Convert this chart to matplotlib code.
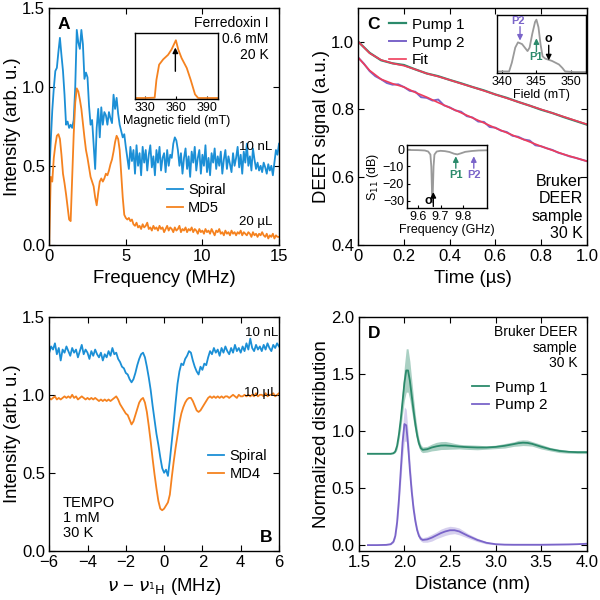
import matplotlib.pyplot as plt
import matplotlib.ticker as mticker
import numpy as np

plt.rcParams['font.family'] = ['Liberation Sans', 'DejaVu Sans']
plt.rcParams['mathtext.fontset'] = 'dejavusans'
plt.rcParams['xtick.direction'] = 'in'
plt.rcParams['ytick.direction'] = 'in'
plt.rcParams['xtick.major.size'] = 4
plt.rcParams['ytick.major.size'] = 4
plt.rcParams['axes.linewidth'] = 1.0

blue = '#1b8fd6'
orange = '#f5821f'
green = '#2b8a6b'
purple = '#7a64c9'
red = '#ef3d5b'
gray = '#9a9a9a'

# ---------- panel A: ferredoxin spectra (0..15 MHz, 0.1 MHz step) ----------
a_freq = np.linspace(0, 15, 151)
a_spiral = [
    0.43, 0.65, 0.85, 0.99, 1.10, 1.12, 1.22, 1.31, 1.20, 1.10,
    0.95, 0.76, 0.78, 0.74, 0.76, 0.74, 0.79, 1.00, 1.36, 1.28,
    1.24, 1.36, 1.27, 1.05, 1.09, 1.06, 0.88, 0.76, 0.79, 0.64,
    0.48, 0.74, 0.86, 0.68, 0.87, 0.76, 0.84, 0.82, 0.76, 0.84,
    0.80, 0.77, 0.95, 0.86, 0.93, 0.83, 0.76, 0.72, 0.68, 0.70,
    0.62, 0.55, 0.48, 0.62, 0.53, 0.60, 0.45, 0.63, 0.50, 0.58,
    0.44, 0.62, 0.52, 0.60, 0.47, 0.57, 0.63, 0.49, 0.56, 0.44,
    0.60, 0.52, 0.62, 0.47, 0.55, 0.58, 0.46, 0.60, 0.50, 0.57,
    0.55, 0.64, 0.68, 0.66, 0.60, 0.50, 0.58, 0.45, 0.55, 0.61,
    0.48, 0.56, 0.43, 0.59, 0.52, 0.62, 0.47, 0.55, 0.60, 0.45,
    0.57, 0.50, 0.63, 0.46, 0.55, 0.44, 0.58, 0.52, 0.61, 0.48,
    0.56, 0.50, 0.59, 0.45, 0.54, 0.60, 0.48, 0.56, 0.51, 0.46,
    0.58, 0.50, 0.55, 0.62, 0.49, 0.57, 0.45, 0.59, 0.52, 0.64,
    0.50, 0.56, 0.47, 0.61, 0.54, 0.48, 0.52, 0.47, 0.50, 0.46,
    0.52, 0.49, 0.45, 0.51, 0.47, 0.50, 0.44, 0.52, 0.60, 0.57,
    0.64]
a_md5 = [
    0.00, 0.43, 0.40, 0.55, 0.63, 0.69, 0.70, 0.67, 0.57, 0.45,
    0.39, 0.32, 0.24, 0.16, 0.15, 0.42, 0.70, 0.90, 0.99, 0.97,
    0.92, 0.86, 0.77, 0.68, 0.60, 0.55, 0.49, 0.43, 0.40, 0.37,
    0.30, 0.25, 0.33, 0.40, 0.42, 0.40, 0.42, 0.45, 0.44, 0.47,
    0.51, 0.54, 0.59, 0.65, 0.69, 0.67, 0.60, 0.45, 0.30, 0.19,
    0.17, 0.16, 0.17, 0.15, 0.16, 0.13, 0.12, 0.14, 0.11, 0.12,
    0.10, 0.13, 0.11, 0.12, 0.14, 0.10, 0.11, 0.09, 0.12, 0.10,
    0.11, 0.09, 0.12, 0.10, 0.11, 0.08, 0.10, 0.12, 0.09, 0.11,
    0.10, 0.08, 0.11, 0.09, 0.10, 0.12, 0.08, 0.10, 0.09, 0.11,
    0.08, 0.10, 0.09, 0.11, 0.08, 0.10, 0.09, 0.07, 0.10, 0.08,
    0.09, 0.07, 0.10, 0.08, 0.09, 0.07, 0.10, 0.08, 0.06, 0.09,
    0.08, 0.10, 0.07, 0.08, 0.06, 0.09, 0.07, 0.08, 0.06, 0.09,
    0.07, 0.08, 0.06, 0.08, 0.07, 0.09, 0.06, 0.08, 0.07, 0.06,
    0.08, 0.07, 0.05, 0.08, 0.06, 0.07, 0.05, 0.07, 0.06, 0.08,
    0.06, 0.05, 0.07, 0.04, 0.06, 0.05, 0.07, 0.04, 0.06, 0.05,
    0.05]
a_ins_field = [320, 330, 339, 340.7, 343.3, 347.2, 352, 355.3, 359.5,
               361.8, 365, 370, 373.8, 378, 381, 390, 400]
a_ins_int = [0.015, 0.015, 0.02, 0.29, 0.52, 0.60, 0.67, 0.75, 0.89,
             0.75, 0.62, 0.47, 0.29, 0.07, 0.015, 0.015, 0.015]

# ---------- panel B: TEMPO spectra (-6..6 MHz, 0.1 MHz step) ----------
b_freq = np.linspace(-6, 6, 121)
b_spiral = [
    1.27, 1.31, 1.29, 1.33, 1.26, 1.30, 1.22, 1.29, 1.27, 1.31,
    1.28, 1.25, 1.30, 1.27, 1.29, 1.24, 1.28, 1.32, 1.26, 1.29,
    1.27, 1.23, 1.28, 1.25, 1.29, 1.26, 1.24, 1.27, 1.22, 1.26,
    1.24, 1.28, 1.25, 1.30, 1.26, 1.27, 1.23, 1.21, 1.18, 1.17,
    1.14, 1.13, 1.10, 1.08, 1.10, 1.14, 1.19, 1.23, 1.26, 1.27,
    1.24, 1.18, 1.11, 1.03, 0.93, 0.84, 0.75, 0.68, 0.60, 0.53,
    0.50, 0.52, 0.48, 0.58, 0.70, 0.82, 0.95, 1.07, 1.15, 1.20,
    1.19, 1.23, 1.25, 1.28, 1.27, 1.22, 1.18, 1.15, 1.13, 1.18,
    1.16, 1.20, 1.19, 1.24, 1.28, 1.26, 1.30, 1.27, 1.29, 1.25,
    1.30, 1.27, 1.31, 1.28, 1.26, 1.30, 1.27, 1.32, 1.28, 1.30,
    1.27, 1.31, 1.28, 1.33, 1.29, 1.36, 1.30, 1.28, 1.32, 1.29,
    1.31, 1.28, 1.32, 1.29, 1.33, 1.30, 1.28, 1.32, 1.30, 1.33,
    1.31]
b_md4 = [
    0.98, 0.97, 0.98, 0.99, 0.97, 0.98, 0.97, 0.98, 0.99, 0.98,
    0.99, 0.98, 1.00, 0.98, 0.99, 0.97, 0.98, 0.99, 0.98, 0.97,
    0.98, 0.97, 0.98, 0.97, 0.98, 0.97, 0.96, 0.97, 0.96, 0.97,
    0.96, 0.97, 0.96, 0.97, 0.98, 0.99, 0.97, 0.94, 0.92, 0.90,
    0.88, 0.87, 0.84, 0.81, 0.83, 0.87, 0.91, 0.95, 0.97, 0.98,
    0.95, 0.89, 0.80, 0.70, 0.59, 0.49, 0.40, 0.32, 0.27, 0.26,
    0.27, 0.29, 0.31, 0.36, 0.47, 0.57, 0.66, 0.74, 0.82, 0.88,
    0.92, 0.95, 0.97, 0.98, 0.98, 0.96, 0.93, 0.90, 0.89, 0.90,
    0.92, 0.94, 0.96, 0.98, 0.99, 0.98, 0.99, 0.98, 0.99, 0.98,
    0.99, 0.98, 0.99, 0.99, 0.98, 0.99, 1.00, 0.99, 0.98, 1.00,
    0.99, 0.99, 1.00, 0.99, 1.00, 0.99, 1.00, 0.99, 1.01, 0.99,
    1.00, 1.00, 0.99, 1.01, 0.99, 1.00, 1.00, 1.01, 0.99, 1.00,
    1.01]

# ---------- panel C: DEER traces ----------
c_t1 = np.linspace(0, 1, 21)
c_pump1 = [1.000, 0.967, 0.945, 0.936, 0.931, 0.918, 0.906, 0.898, 0.887, 0.877,
           0.866, 0.856, 0.844, 0.834, 0.822, 0.811, 0.799, 0.789, 0.777, 0.766, 0.755]
c_fit1 = [1.000, 0.966, 0.946, 0.936, 0.929, 0.918, 0.906, 0.897, 0.887, 0.876,
          0.866, 0.855, 0.844, 0.833, 0.822, 0.811, 0.800, 0.789, 0.778, 0.767, 0.756]
c_t2 = np.linspace(0, 1, 41)
c_pump2 = [0.953, 0.935, 0.913, 0.898, 0.889, 0.878, 0.873, 0.874, 0.866, 0.855,
           0.852, 0.836, 0.834, 0.826, 0.829, 0.812, 0.806, 0.797, 0.793, 0.780,
           0.776, 0.764, 0.763, 0.748, 0.746, 0.737, 0.733, 0.722, 0.719, 0.711,
           0.708, 0.694, 0.691, 0.685, 0.680, 0.672, 0.667, 0.661, 0.657, 0.652, 0.647]
c_fit2 = [0.953, 0.915, 0.889, 0.876, 0.866, 0.850, 0.836, 0.820, 0.805, 0.790,
          0.775, 0.760, 0.745, 0.731, 0.717, 0.704, 0.691, 0.679, 0.667, 0.657, 0.647]
c_ins_field = [339.2, 341.0, 341.4, 341.9, 342.3, 342.9, 343.7, 344.0, 344.4, 344.8,
               345.0, 345.3, 345.6, 345.9, 346.3, 347.3, 348.3, 348.8, 349.2, 350.5, 352.2]
c_ins_sig = [0.03, 0.03, 0.18, 0.44, 0.53, 0.50, 0.38, 0.44, 0.68, 0.88,
             0.92, 0.79, 0.50, 0.29, 0.25, 0.21, 0.15, 0.09, 0.03, 0.02, 0.02]
c_s11_freq = [9.55, 9.60, 9.63, 9.645, 9.655, 9.659, 9.662, 9.664, 9.666, 9.669,
              9.673, 9.683, 9.70, 9.72, 9.74, 9.76, 9.775, 9.79, 9.81, 9.84, 9.87, 9.905]
c_s11_db = [-0.3, -0.4, -0.6, -1.2, -3.0, -10.0, -24.0, -31.0, -24.0, -10.0,
            -3.0, -1.2, -0.8, -1.0, -1.5, -2.5, -2.9, -2.3, -1.4, -0.9, -0.6, -0.5]

# ---------- panel D: distance distributions ----------
d_dist = [1.6, 1.7, 1.8, 1.85, 1.88, 1.9, 1.92, 1.94, 1.96, 1.98, 2.0, 2.02, 2.04,
          2.06, 2.08, 2.1, 2.12, 2.14, 2.16, 2.18, 2.2, 2.25, 2.3, 2.35, 2.4, 2.45,
          2.5, 2.55, 2.6, 2.65, 2.7, 2.8, 2.9, 3.0, 3.1, 3.2, 3.25, 3.3, 3.35, 3.4,
          3.5, 3.6, 3.7, 3.8, 3.9, 4.0]
d_pump1 = [0.80, 0.80, 0.80, 0.80, 0.805, 0.82, 0.87, 0.97, 1.10, 1.26, 1.42, 1.53, 1.53,
           1.44, 1.31, 1.18, 1.06, 0.96, 0.89, 0.85, 0.835, 0.84, 0.855, 0.865, 0.872, 0.873,
           0.870, 0.866, 0.863, 0.860, 0.858, 0.855, 0.855, 0.860, 0.870, 0.885, 0.893, 0.897,
           0.895, 0.887, 0.862, 0.840, 0.825, 0.817, 0.814, 0.814]
d_pump1_err = [0.003, 0.003, 0.003, 0.003, 0.005, 0.01, 0.03, 0.05, 0.08, 0.11, 0.15, 0.19,
               0.19, 0.17, 0.14, 0.11, 0.08, 0.06, 0.04, 0.03, 0.025, 0.025, 0.03, 0.035,
               0.035, 0.035, 0.03, 0.025, 0.02, 0.02, 0.02, 0.02, 0.015, 0.015, 0.02, 0.02,
               0.025, 0.025, 0.025, 0.02, 0.02, 0.015, 0.015, 0.012, 0.012, 0.012]
d_pump2 = [0.0, 0.0, 0.002, 0.008, 0.03, 0.08, 0.20, 0.40, 0.65, 0.90, 1.06, 1.05, 0.88,
           0.66, 0.47, 0.32, 0.21, 0.13, 0.08, 0.055, 0.045, 0.05, 0.065, 0.085, 0.105, 0.12,
           0.13, 0.13, 0.12, 0.10, 0.08, 0.045, 0.02, 0.008, 0.004, 0.003, 0.003, 0.003,
           0.003, 0.003, 0.003, 0.004, 0.005, 0.006, 0.008, 0.012]
d_pump2_err = [0.002, 0.002, 0.003, 0.005, 0.01, 0.02, 0.04, 0.07, 0.10, 0.13, 0.15, 0.14,
               0.12, 0.09, 0.07, 0.05, 0.04, 0.03, 0.025, 0.02, 0.02, 0.025, 0.03, 0.03,
               0.035, 0.035, 0.035, 0.03, 0.03, 0.025, 0.02, 0.015, 0.01, 0.005, 0.003,
               0.003, 0.003, 0.003, 0.003, 0.003, 0.003, 0.003, 0.003, 0.003, 0.003, 0.003]

TICK = 12
LAB = 13.3


def style(ax):
    ax.tick_params(which='both', top=True, right=True, labelsize=TICK, pad=3)


def small_text(ax, x, y, s, **kw):
    ax.text(x, y, s, transform=ax.transAxes, fontsize=9.5, **kw)


def arrow(ax, x0, y0, x1, y1, color):
    ax.annotate('', xy=(x1, y1), xytext=(x0, y0),
                arrowprops=dict(arrowstyle='-|>', color=color, lw=1.0, mutation_scale=8,
                                shrinkA=0, shrinkB=0))


fig = plt.figure(figsize=(6, 6), dpi=100)
axA = fig.add_axes([0.082, 0.592, 0.383, 0.395])
axC = fig.add_axes([0.597, 0.592, 0.381, 0.395])
axB = fig.add_axes([0.082, 0.082, 0.383, 0.390])
axD = fig.add_axes([0.598, 0.082, 0.380, 0.390])

# A
axA.plot(a_freq, a_spiral, color=blue, lw=1.3, label='Spiral')
axA.plot(a_freq, a_md5, color=orange, lw=1.3, label='MD5')
axA.set_xlim(0, 15)
axA.set_ylim(0, 1.5)
axA.set_xticks([0, 5, 10, 15])
axA.set_yticks([0, 0.5, 1.0, 1.5])
axA.yaxis.set_major_formatter(mticker.FormatStrFormatter('%.1f'))
axA.set_xlabel('Frequency (MHz)', fontsize=LAB)
axA.set_ylabel('Intensity (arb. u.)', fontsize=LAB, labelpad=1)
style(axA)
axA.text(0.065, 0.93, 'A', transform=axA.transAxes, fontsize=12.5, fontweight='bold',
         ha='center', va='center')
axA.text(0.955, 0.965, 'Ferredoxin I\n0.6 mM\n20 K', transform=axA.transAxes,
         fontsize=10, ha='right', va='top', linespacing=1.2)
small_text(axA, 0.97, 0.414, '10 nL', ha='right', va='center')
small_text(axA, 0.97, 0.097, '20 µL', ha='right', va='center')
axA.legend(loc='upper left', bbox_to_anchor=(0.48, 0.29), frameon=False, fontsize=10.5,
           handlelength=1.1, handletextpad=0.35, labelspacing=0.25, borderpad=0)

insA = fig.add_axes([0.225, 0.835, 0.138, 0.110])
insA.plot(a_ins_field, a_ins_int, color=orange, lw=1.3)
insA.set_xlim(320, 400)
insA.set_ylim(0, 1.0)
insA.set_xticks([330, 360, 390])
insA.set_yticks([])
insA.tick_params(labelsize=9, length=2.5, pad=2)
insA.set_xlabel('Magnetic field (mT)', fontsize=9, labelpad=1)
arrow(insA, 359, 0.42, 359, 0.78, 'black')

# C
axC.plot(c_t1, c_pump1, color=green, lw=1.6, label='Pump 1')
axC.plot(c_t2, c_pump2, color=purple, lw=1.4, label='Pump 2')
axC.plot(c_t1, c_fit1, color=red, lw=1.2, label='Fit')
axC.plot(c_t1, c_fit2, color=red, lw=1.2)
axC.set_xlim(0, 1.0)
axC.set_ylim(0.4, 1.1)
axC.set_xticks([0, 0.2, 0.4, 0.6, 0.8, 1.0])
axC.set_yticks([0.4, 0.6, 0.8, 1.0])
axC.xaxis.set_major_formatter(mticker.FuncFormatter(lambda v, p: '0' if v == 0 else f'{v:.1f}'))
axC.yaxis.set_major_formatter(mticker.FormatStrFormatter('%.1f'))
axC.set_xlabel('Time (µs)', fontsize=LAB)
axC.set_ylabel('DEER signal (a.u.)', fontsize=LAB, labelpad=1)
style(axC)
axC.text(0.066, 0.93, 'C', transform=axC.transAxes, fontsize=12.5, fontweight='bold',
         ha='center', va='center')
axC.text(0.985, 0.015, 'Bruker\nDEER\nsample\n30 K', transform=axC.transAxes,
         fontsize=11.5, ha='right', va='bottom', linespacing=1.2)
axC.legend(loc='upper left', bbox_to_anchor=(0.1, 0.99), frameon=False, fontsize=11,
           handlelength=1.1, handletextpad=0.4, labelspacing=0.25, borderpad=0)

insC1 = fig.add_axes([0.828, 0.878, 0.148, 0.097])
insC1.plot(c_ins_field, c_ins_sig, color=gray, lw=1.3)
insC1.set_xlim(339.2, 352.2)
insC1.set_ylim(0, 1.0)
insC1.set_xticks([340, 345, 350])
insC1.set_yticks([])
insC1.tick_params(labelsize=9, length=2.5, pad=2)
insC1.set_xlabel('Field (mT)', fontsize=9, labelpad=1)
arrow(insC1, 342.6, 0.80, 342.6, 0.56, purple)
insC1.text(342.3, 0.9, 'P2', color=purple, fontsize=8, fontweight='bold', ha='center', va='center')
arrow(insC1, 345.0, 0.37, 345.0, 0.60, green)
insC1.text(344.9, 0.27, 'P1', color=green, fontsize=8, fontweight='bold', ha='center', va='center')
arrow(insC1, 346.8, 0.48, 346.8, 0.22, 'black')
insC1.text(346.8, 0.58, 'o', color='black', fontsize=9, fontweight='bold', ha='center', va='center')

insC2 = fig.add_axes([0.678, 0.653, 0.133, 0.105])
insC2.plot(c_s11_freq, c_s11_db, color=gray, lw=1.3)
insC2.set_xlim(9.55, 9.905)
insC2.set_ylim(-34.5, 2.5)
insC2.set_xticks([9.6, 9.7, 9.8])
insC2.set_yticks([0, -10, -20, -30])
insC2.tick_params(labelsize=9, length=2.5, pad=2)
insC2.set_xlabel('Frequency (GHz)', fontsize=9, labelpad=1)
insC2.set_ylabel('S$_{11}$ (dB)', fontsize=9, labelpad=1)
arrow(insC2, 9.668, -33.5, 9.668, -25, 'black')
insC2.text(9.645, -30.5, 'o', color='black', fontsize=9, fontweight='bold', ha='center', va='center')
arrow(insC2, 9.768, -11, 9.768, -4, green)
insC2.text(9.768, -15, 'P1', color=green, fontsize=8, fontweight='bold', ha='center', va='center')
arrow(insC2, 9.848, -11, 9.848, -4, purple)
insC2.text(9.848, -15, 'P2', color=purple, fontsize=8, fontweight='bold', ha='center', va='center')

# B
axB.plot(b_freq, b_spiral, color=blue, lw=1.3, label='Spiral')
axB.plot(b_freq, b_md4, color=orange, lw=1.3, label='MD4')
axB.set_xlim(-6, 6)
axB.set_ylim(0, 1.5)
axB.set_xticks([-6, -4, -2, 0, 2, 4, 6])
axB.set_yticks([0, 0.5, 1.0, 1.5])
axB.yaxis.set_major_formatter(mticker.FormatStrFormatter('%.1f'))
axB.set_xlabel(r'$\nu$ − $\nu_{^{1}\mathrm{H}}$ (MHz)', fontsize=LAB)
axB.set_ylabel('Intensity (arb. u.)', fontsize=LAB, labelpad=1)
style(axB)
axB.text(0.943, 0.056, 'B', transform=axB.transAxes, fontsize=12.5, fontweight='bold',
         ha='center', va='center')
axB.text(0.06, 0.045, 'TEMPO\n1 mM\n30 K', transform=axB.transAxes,
         fontsize=10.5, ha='left', va='bottom', linespacing=1.1)
small_text(axB, 0.995, 0.93, '10 nL', ha='right', va='center')
small_text(axB, 0.995, 0.675, '10 µL', ha='right', va='center')
axB.legend(loc='upper left', bbox_to_anchor=(0.66, 0.465), frameon=False, fontsize=10.5,
           handlelength=1.1, handletextpad=0.35, labelspacing=0.25, borderpad=0)

# D
axD.fill_between(d_dist, np.array(d_pump1) - np.array(d_pump1_err),
                 np.array(d_pump1) + np.array(d_pump1_err), color=green, alpha=0.4, lw=0)
axD.fill_between(d_dist, np.array(d_pump2) - np.array(d_pump2_err),
                 np.array(d_pump2) + np.array(d_pump2_err), color=purple, alpha=0.3, lw=0)
axD.plot(d_dist, d_pump1, color=green, lw=1.3, label='Pump 1')
axD.plot(d_dist, d_pump2, color=purple, lw=1.3, label='Pump 2')
axD.set_xlim(1.5, 4.0)
axD.set_ylim(-0.05, 2.0)
axD.set_xticks([1.5, 2.0, 2.5, 3.0, 3.5, 4.0])
axD.set_yticks([0, 0.5, 1.0, 1.5, 2.0])
axD.xaxis.set_major_formatter(mticker.FormatStrFormatter('%.1f'))
axD.yaxis.set_major_formatter(mticker.FormatStrFormatter('%.1f'))
axD.set_xlabel('Distance (nm)', fontsize=LAB)
axD.set_ylabel('Normalized distribution', fontsize=LAB, labelpad=1)
style(axD)
axD.text(0.066, 0.93, 'D', transform=axD.transAxes, fontsize=12.5, fontweight='bold',
         ha='center', va='center')
axD.text(0.96, 0.965, 'Bruker DEER\nsample\n30 K', transform=axD.transAxes,
         fontsize=10, ha='right', va='top', linespacing=1.15)
axD.legend(loc='upper left', bbox_to_anchor=(0.465, 0.76), frameon=False, fontsize=11,
           handlelength=1.1, handletextpad=0.4, labelspacing=0.25, borderpad=0)

fig.savefig('out.png', dpi=100)
